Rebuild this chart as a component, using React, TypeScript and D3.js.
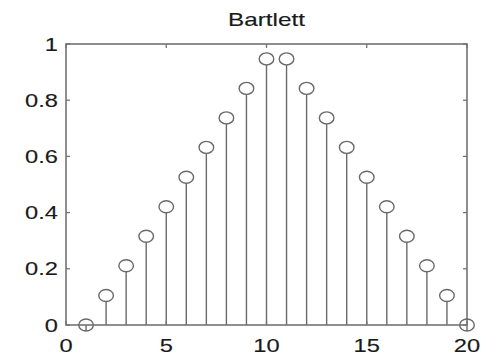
import React from "react";
import * as d3 from "d3";

const title = "Bartlett";
const n = [1, 2, 3, 4, 5, 6, 7, 8, 9, 10, 11, 12, 13, 14, 15, 16, 17, 18, 19, 20];
const w = [0, 0.105, 0.211, 0.316, 0.421, 0.526, 0.632, 0.737, 0.842, 0.947,
  0.947, 0.842, 0.737, 0.632, 0.526, 0.421, 0.316, 0.211, 0.105, 0];
const xTicks = [0, 5, 10, 15, 20];
const yTicks = [0, 0.2, 0.4, 0.6, 0.8, 1];

const W = 492, H = 358;
const L = 66, R = 467, T = 44, B = 325;
const SX = 1.28;
const FONT = "Liberation Sans, Arial, sans-serif";
const AX = "#737373";
const ST = "#6a6a6a";

export default function App() {
  const x = d3.scaleLinear().domain([0, 20]).range([L, R]);
  const y = d3.scaleLinear().domain([0, 1]).range([B, T]);
  const tl = 4;
  const txt = (s: string, px: number, py: number, anchor: string, size: number, key?: any) => (
    <g key={key} transform={`translate(${px},${py}) scale(${SX},1)`}>
      <text x={0} y={0} textAnchor={anchor} fontFamily={FONT} fontSize={size} fill="#1a1a1a"
        stroke="#1a1a1a" strokeWidth={0.15}>{s}</text>
    </g>
  );
  return (
    <svg width={W} height={H} style={{ position: "absolute", left: 0, top: 0, background: "#fff" }}>
      <rect x={0} y={0} width={W} height={H} fill="#fff" />
      {n.map((d, i) => (
        <line key={"s" + i} x1={x(d)} x2={x(d)} y1={y(0)} y2={y(w[i]) + 6} stroke={ST} strokeWidth={1.4} />
      ))}
      <rect x={L} y={T} width={R - L} height={B - T} fill="none" stroke={AX} strokeWidth={1.6} />
      {xTicks.map((t) => (
        <g key={"xt" + t}>
          <line x1={x(t)} x2={x(t)} y1={B} y2={B - tl} stroke={AX} strokeWidth={1.3} />
          <line x1={x(t)} x2={x(t)} y1={T} y2={T + tl} stroke={AX} strokeWidth={1.3} />
        </g>
      ))}
      {yTicks.map((t) => (
        <g key={"yt" + t}>
          <line x1={L} x2={L + tl} y1={y(t)} y2={y(t)} stroke={AX} strokeWidth={1.3} />
          <line x1={R} x2={R - tl} y1={y(t)} y2={y(t)} stroke={AX} strokeWidth={1.3} />
        </g>
      ))}
      {n.map((d, i) => (
        <ellipse key={"c" + i} cx={x(d)} cy={y(w[i])} rx={7.3} ry={6} fill="none" stroke={ST} strokeWidth={1.4} />
      ))}
      {xTicks.map((t) => txt(String(t), x(t), 352, "middle", 18.5, "xl" + t))}
      {yTicks.map((t) => txt(String(t), L - 8, y(t) + 6.5, "end", 18.5, "yl" + t))}
      {txt(title, (L + R) / 2, 26, "middle", 19, "title")}
    </svg>
  );
}
